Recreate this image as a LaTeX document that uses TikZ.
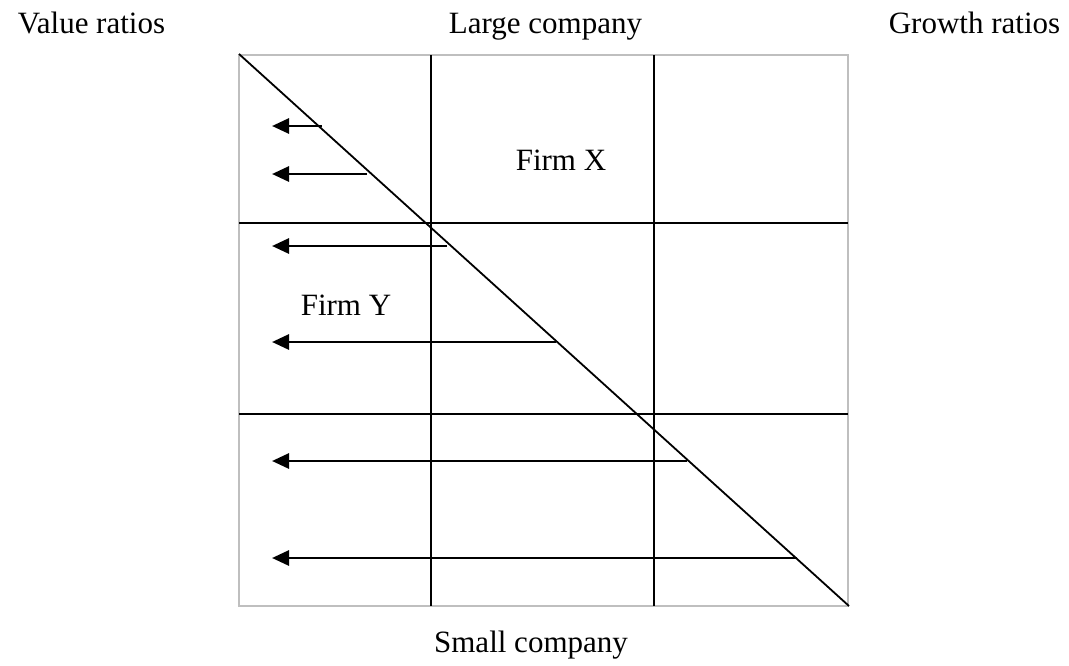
\documentclass[tikz,border=0pt]{standalone}
\usepackage{fontspec}
\setmainfont{Liberation Serif}
\usetikzlibrary{arrows.meta}
\begin{document}
\begin{tikzpicture}[x=1pt,y=-1pt,
  lbl/.style={anchor=base,inner sep=0pt,font=\fontsize{31}{37}\selectfont},
  grid/.style={line width=2.2pt,black},
  border/.style={line width=2.2pt,draw=black!25},
  diag/.style={line width=1.8pt,black},
  leftarrow/.style={line width=2.8pt,-{Triangle[length=17pt,width=15pt]}}]
\useasboundingbox (0,0) rectangle (1069,665);
% frame
\draw[border] (239,55) rectangle (848,606);
% inner grid
\draw[grid] (431,55) -- (431,606);
\draw[grid] (654,55) -- (654,606);
\draw[grid] (239,223) -- (848,223);
\draw[grid] (239,414) -- (848,414);
% diagonal
\coordinate (d1) at (239,54);
\coordinate (d2) at (849,606);
\draw[diag] (d1) -- (d2);
% arrows
\foreach \y/\xs [count=\i] in {126/322,174/367,246/447,342/556,461/687,558/797}{
  \coordinate (s\i) at (\xs,\y);
  \coordinate (e\i) at (272,\y);
  \draw[leftarrow] (s\i) -- (e\i);
}
% labels
\node[lbl] (vr) at (91.5,33) {Value ratios};
\node[lbl] (lc) at (545.5,33) {Large company};
\node[lbl] (gr) at (974.5,33) {Growth ratios};
\node[lbl] (sc) at (531,652) {Small company};
\node[lbl] (fx) at (561,170) {Firm X};
\node[lbl] (fy) at (346,315) {Firm Y};
\end{tikzpicture}
\end{document}
